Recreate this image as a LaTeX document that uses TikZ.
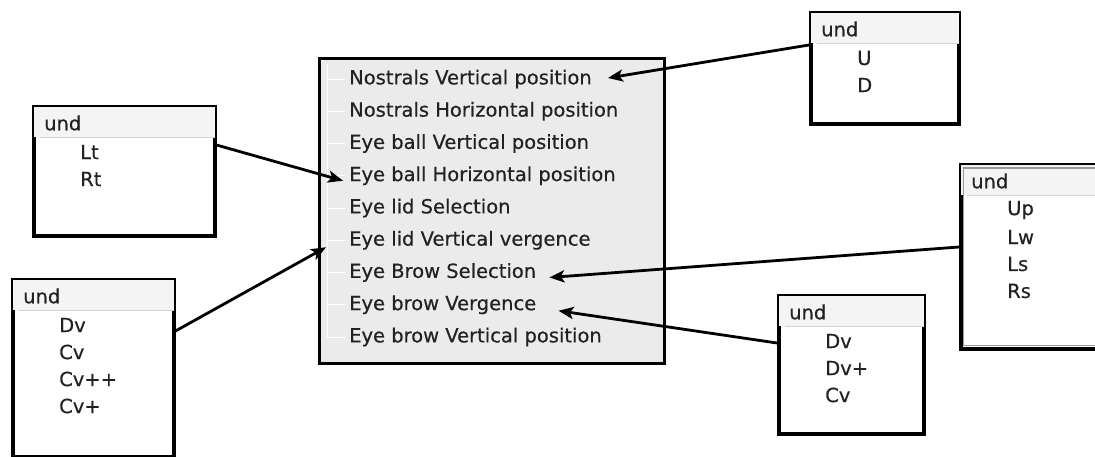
\documentclass[tikz,border=0pt]{standalone}
\usepackage{fontspec}
\setmainfont[FakeBold=0.4]{DejaVu Sans}
\usetikzlibrary{arrows.meta,positioning}

\definecolor{panelgray}{HTML}{EBEBEB}
\definecolor{headgray}{HTML}{F4F4F4}
\definecolor{rulegray}{HTML}{D2D2D2}
\definecolor{inkgray}{HTML}{222222}

\begin{document}
\begin{tikzpicture}[
  x=1pt,
  y=-1pt,
  line cap=round,
  every node/.style={font=\fontsize{19.5}{21}\selectfont, text=inkgray, inner sep=0pt},
  listbox/.style={draw=black, line width=3.5pt, fill=white, anchor=north west},
  panel/.style={draw=black, line width=2.8pt, fill=panelgray, anchor=north west},
  rowtext/.style={anchor=west},
  innerframe/.style={draw=gray!80, line width=1.5pt},
  link/.style={line width=2.8pt, -{Stealth[length=15pt,width=12pt,inset=3.5pt]}}
]

  \clip (0,0) rectangle (1095,456);
  \useasboundingbox (0,0) rectangle (1095,456);

  % value box: name, x, y, width, height, items
  \def\valuebox#1#2#3#4#5#6{%
    \node[listbox, minimum width=#4, minimum height=#5] (#1) at (#2,#3) {};
    \fill[headgray] ([shift={(1.8,1.8)}]#1.north west) rectangle ([shift={(-1.8,32)}]#1.north east);
    \draw[rulegray, line width=1pt] ([shift={(8,32)}]#1.north west) -- ([shift={(-1.8,32)}]#1.north east);
    \node[rowtext] (#1-head) at ([shift={(12,18)}]#1.north west) {und};
    \foreach \v [count=\k from 0] in {#6} {
      \node[rowtext] (#1-\k) at ([shift={(48,47+27*\k)}]#1.north west) {\v};
    }
  }

  % central list of features
  \node[panel, minimum width=345, minimum height=305] (feat) at (318,57) {};
  \draw[white, line width=1pt] (327,64) -- (327,337);
  \foreach \t/\n [count=\k from 0] in {
      Nostrals Vertical position/nv,
      Nostrals Horizontal position/nh,
      Eye ball Vertical position/ebv,
      Eye ball Horizontal position/ebh,
      Eye lid Selection/els,
      Eye lid Vertical vergence/elv,
      Eye Brow Selection/ebs,
      Eye brow Vergence/ebr,
      Eye brow Vertical position/ebp} {
    \draw[white, line width=1pt] (327,79+32.25*\k) -- (345,79+32.25*\k);
    \node[rowtext] (\n) at (349,79+32.25*\k) {\t};
  }

  % value boxes
  \valuebox{ubox}{809}{11}{148}{111}{U,D}
  \valuebox{ltbox}{32}{105}{181}{129}{Lt,Rt}
  \valuebox{cvbox}{11}{278}{161}{177}{Dv,Cv,Cv++,Cv+}
  \valuebox{upbox}{959}{163}{160}{184}{Up,Lw,Ls,Rs}
  \valuebox{dvbox}{777}{294}{145}{138}{Dv,Dv+,Cv}

  % second frame inside the right box
  \draw[innerframe] ([shift={(140,5)}]upbox.north west) -- ([shift={(4.5,5)}]upbox.north west)
    -- ([shift={(4.5,-5)}]upbox.south west) -- ([shift={(140,-5)}]upbox.south west);

  % links from boxes to features
  \draw[link] ([yshift=-34]ubox.north west) -- ([shift={(16,-1)}]nv.east);
  \draw[link] ([yshift=-40]ltbox.north east) -- ([shift={(-6,5)}]ebh.west);
  \draw[link] ([yshift=-53]cvbox.north east) -- ([shift={(-23,7)}]elv.west);
  \draw[link] ([yshift=-84]upbox.north west) -- ([shift={(13,5)}]ebs.east);
  \draw[link] ([yshift=-49]dvbox.north west) -- ([shift={(22,6)}]ebr.east);

\end{tikzpicture}
\end{document}
